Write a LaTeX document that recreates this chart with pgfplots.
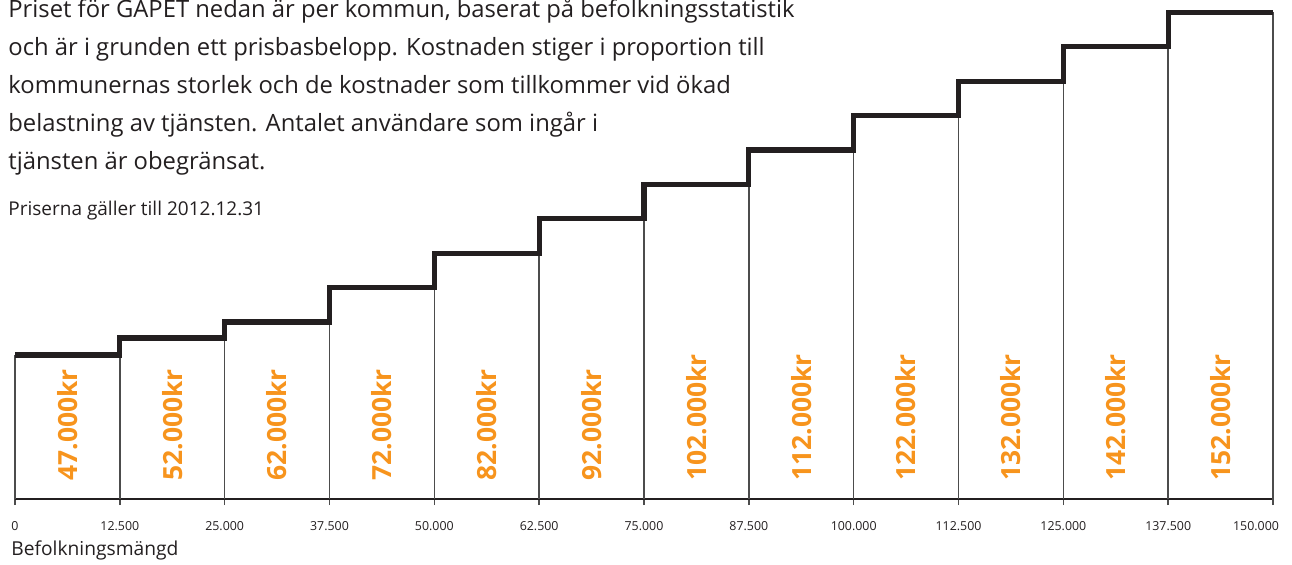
\documentclass[border=0pt]{standalone}
\usepackage{fontspec}
\setmainfont{Open Sans}
\usepackage{pgfplots}
\pgfplotsset{compat=1.18}
\definecolor{ink}{HTML}{231F20}
\definecolor{orng}{HTML}{F7941D}
\begin{document}
\begin{tikzpicture}[x=1bp,y=1bp]
\useasboundingbox (-7.5,-32.5) rectangle (638.5,249.5);
\begin{axis}[
  at={(0,0)}, anchor=south west,
  scale only axis, width=629bp, height=249.5bp,
  xmin=0, xmax=150000, ymin=0, ymax=499,
  clip=false, scaled x ticks=false,
  axis x line=bottom, axis y line=none,
  x axis line style={-, line width=1.4bp, color=ink},
  xtick={0,12500,25000,37500,50000,62500,75000,87500,100000,112500,125000,137500},
  xticklabels={0,12.500,25.000,37.500,50.000,62.500,75.000,87.500,100.000,112.500,125.000,137.500},
  extra x ticks={150000},
  extra x tick labels={150.000},
  extra x tick style={xticklabel style={xshift=-8.5bp}},
  /pgf/number format/assume math mode=true,
  xtick align=outside, major tick length=3bp,
  x tick style={line width=0.75bp, color=black!70},
  xticklabel style={font=\fontsize{6.2bp}{7bp}\selectfont, text=ink, yshift=-4.5bp},
]
\addplot[ycomb, line width=0.75bp, color=black!70, mark=none] coordinates {
 (0,144) (12500,161) (25000,177) (37500,211.4) (50000,245.8) (62500,280.2)
 (75000,314.6) (87500,349) (100000,383.4) (112500,417.8) (125000,452.2) (137500,486.6) (150000,486.6)};
\addplot[const plot, line width=2.6bp, color=ink, mark=none, line join=miter] coordinates {
 (0,144) (12500,161) (25000,177) (37500,211.4) (50000,245.8) (62500,280.2)
 (75000,314.6) (87500,349) (100000,383.4) (112500,417.8) (125000,452.2) (137500,486.6) (150000,486.6)};
\foreach \xx/\lab in {6250/47.000kr,18750/52.000kr,31250/62.000kr,43750/72.000kr,56250/82.000kr,68750/92.000kr,81250/102.000kr,93750/112.000kr,106250/122.000kr,118750/132.000kr,131250/142.000kr,143750/152.000kr}{
  \edef\temp{\noexpand\node[rotate=90, anchor=west, inner sep=0pt, text=orng, font=\noexpand\fontsize{13.2bp}{15bp}\noexpand\selectfont\noexpand\bfseries] at (axis cs:\xx,18) {\lab};}
  \temp
}
\end{axis}
\begin{scope}[font=\fontsize{11.9bp}{14bp}\selectfont, color=ink]
\node[anchor=base west, inner sep=0pt] at (-3.5,241) {Priset för GAPET nedan är per kommun, baserat på befolkningsstatistik};
\node[anchor=base west, inner sep=0pt] at (-3.5,222) {och är i grunden ett prisbasbelopp. Kostnaden stiger i proportion till};
\node[anchor=base west, inner sep=0pt] at (-3.5,203) {kommunernas storlek och de kostnader som tillkommer vid ökad};
\node[anchor=base west, inner sep=0pt] at (-3.5,184) {belastning av tjänsten. Antalet användare som ingår i};
\node[anchor=base west, inner sep=0pt] at (-3.5,165) {tjänsten är obegränsat.};
\end{scope}
\node[anchor=base west, inner sep=0pt, font=\fontsize{9.5bp}{10bp}\selectfont, color=ink] at (-3.5,142) {Priserna gäller till 2012.12.31};
\node[anchor=base west, inner sep=0pt, font=\fontsize{9.6bp}{12bp}\selectfont, color=ink] at (-2,-28) {Befolkningsmängd};
\end{tikzpicture}
\end{document}
